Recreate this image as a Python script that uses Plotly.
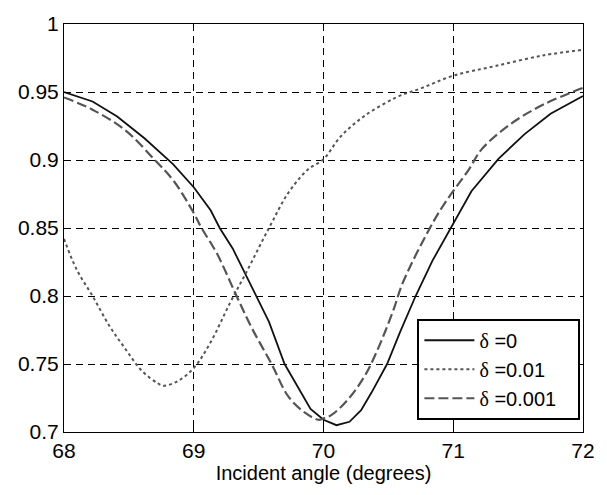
import plotly.graph_objects as go

# delta = 0 (solid)
x_d0 = [68.0, 68.22, 68.41, 68.62, 68.84, 69.0, 69.13, 69.2, 69.3, 69.4, 69.48, 69.58, 69.7, 69.83, 69.9, 70.0,
        70.1, 70.2, 70.29, 70.37, 70.49, 70.59, 70.71, 70.84, 70.98, 71.14, 71.35, 71.55, 71.75, 72.0]
y_d0 = [0.950, 0.943, 0.932, 0.916, 0.897, 0.880, 0.863, 0.850, 0.835, 0.816, 0.800, 0.781, 0.750, 0.728, 0.717, 0.709,
        0.705, 0.7075, 0.716, 0.729, 0.750, 0.7735, 0.800, 0.826, 0.850, 0.877, 0.901, 0.919, 0.934, 0.947]

# delta = 0.01 (dotted)
x_d1 = [68.0, 68.1, 68.22, 68.35, 68.47, 68.6, 68.72, 68.77, 68.88, 69.0, 69.13, 69.28, 69.4, 69.58, 69.73, 69.88,
        70.0, 70.13, 70.31, 70.56, 70.76, 71.0, 71.32, 71.7, 72.0]
y_d1 = [0.842, 0.819, 0.800, 0.778, 0.7615, 0.745, 0.736, 0.734, 0.7376, 0.747, 0.766, 0.795, 0.8165, 0.850, 0.876, 0.893,
        0.9006, 0.917, 0.932, 0.946, 0.953, 0.962, 0.969, 0.977, 0.981]

# delta = 0.001 (dashed)
x_d2 = [68.0, 68.22, 68.47, 68.7, 68.85, 69.0, 69.06, 69.18, 69.33, 69.45, 69.6, 69.73, 69.86, 69.96,
        70.0, 70.06, 70.18, 70.31, 70.41, 70.54, 70.61, 70.82, 70.94, 71.12, 71.22, 71.45, 71.7, 72.0]
y_d2 = [0.946, 0.937, 0.922, 0.900, 0.884, 0.861, 0.850, 0.831, 0.800, 0.776, 0.750, 0.726, 0.714, 0.709,
        0.710, 0.7124, 0.723, 0.740, 0.759, 0.790, 0.8095, 0.850, 0.869, 0.893, 0.908, 0.927, 0.941, 0.953]

x_ticks = [68, 69, 70, 71, 72]
y_ticks = [0.7, 0.75, 0.8, 0.85, 0.9, 0.95, 1.0]
y_tick_labels = ["0.7", "0.75", "0.8", "0.85", "0.9", "0.95", "1"]

PAD = "\u00a0\u00a0\u00a0"
names = ["<span style='font-family:Liberation Serif'>δ</span> =0" + PAD,
         "<span style='font-family:Liberation Serif'>δ</span> =0.01" + PAD,
         "<span style='font-family:Liberation Serif'>δ</span> =0.001" + PAD]

FONT = "Liberation Sans, Arial, sans-serif"
FS = 21

fig = go.Figure()
fig.add_trace(go.Scatter(x=x_d0, y=y_d0, mode="lines", name=names[0],
                         line=dict(color="#111111", width=1.8, dash="solid")))
fig.add_trace(go.Scatter(x=x_d1, y=y_d1, mode="lines", name=names[1],
                         line=dict(color="#555555", width=2, dash="dot", shape="spline")))
fig.add_trace(go.Scatter(x=x_d2, y=y_d2, mode="lines", name=names[2],
                         line=dict(color="#555555", width=2.2, dash="10px,4px", shape="spline")))

axis_common = dict(
    showline=True, linecolor="black", linewidth=1, mirror=True,
    ticks="inside", ticklen=5, tickcolor="black",
    showgrid=True, gridcolor="black", gridwidth=1, griddash="7px,5px",
    zeroline=False,
    tickfont=dict(family=FONT, size=FS, color="black"),
)

fig.update_xaxes(range=[68, 72], tickvals=x_ticks, ticktext=[str(v) for v in x_ticks],
                 title=dict(text="Incident angle (degrees)", standoff=3,
                            font=dict(family=FONT, size=20, color="black")),
                 **axis_common)
fig.update_yaxes(range=[0.7, 1.0], tickvals=y_ticks, ticktext=y_tick_labels, **axis_common)

fig.update_layout(
    width=607, height=495,
    margin=dict(l=64, r=13, t=15, b=63),
    paper_bgcolor="white", plot_bgcolor="white",
    font=dict(family=FONT, size=FS, color="black"),
    legend=dict(x=0.995, y=0.03, xanchor="right", yanchor="bottom",
                bordercolor="black", borderwidth=2, bgcolor="white",
                font=dict(size=20), tracegroupgap=0, itemwidth=50),
    showlegend=True,
)

fig.write_html("out.html")
